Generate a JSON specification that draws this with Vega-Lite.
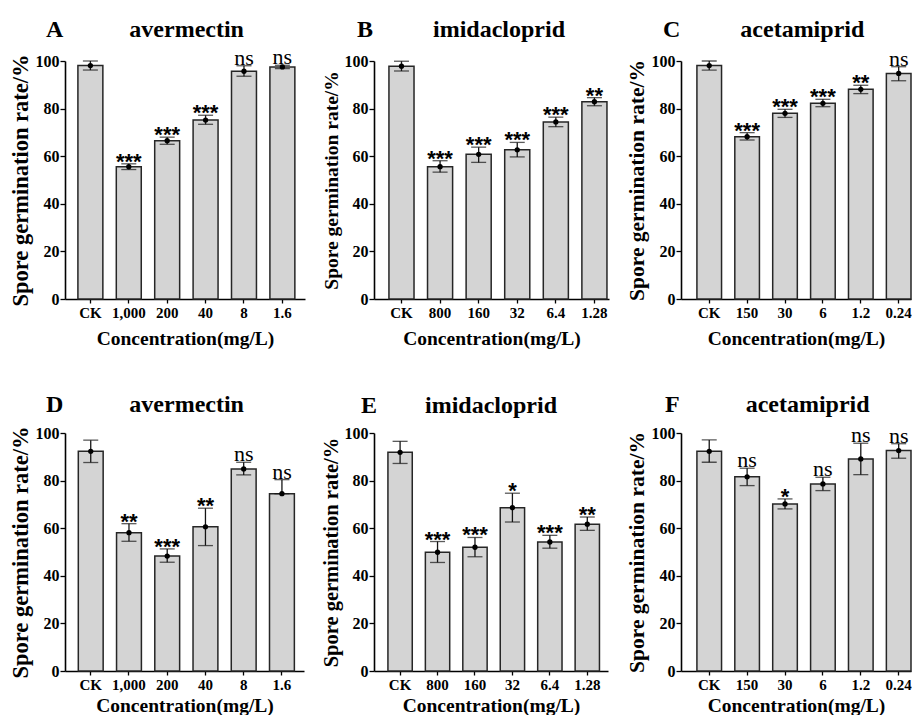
{
  "$schema": "https://vega.github.io/schema/vega-lite/v6.json",
  "padding": {"left": 8, "top": 18, "right": 0, "bottom": 0},
  "background": "#ffffff",
  "datasets": {
    "germ": [
      {"panel": "A", "dose": "CK", "mean": 98.1, "lo": 96.2, "hi": 100.0, "sig": ""},
      {"panel": "A", "dose": "1,000", "mean": 55.6, "lo": 54.4, "hi": 56.8, "sig": "***"},
      {"panel": "A", "dose": "200", "mean": 66.5, "lo": 65.0, "hi": 68.0, "sig": "***"},
      {"panel": "A", "dose": "40", "mean": 75.2, "lo": 73.4, "hi": 77.2, "sig": "***"},
      {"panel": "A", "dose": "8", "mean": 95.7, "lo": 93.6, "hi": 98.0, "sig": "ns"},
      {"panel": "A", "dose": "1.6", "mean": 97.5, "lo": 96.8, "hi": 98.2, "sig": "ns"},
      {"panel": "B", "dose": "CK", "mean": 97.8, "lo": 95.8, "hi": 99.9, "sig": ""},
      {"panel": "B", "dose": "800", "mean": 55.6, "lo": 53.3, "hi": 58.1, "sig": "***"},
      {"panel": "B", "dose": "160", "mean": 60.8, "lo": 57.4, "hi": 63.8, "sig": "***"},
      {"panel": "B", "dose": "32", "mean": 62.7, "lo": 59.7, "hi": 65.8, "sig": "***"},
      {"panel": "B", "dose": "6.4", "mean": 74.4, "lo": 72.4, "hi": 76.4, "sig": "***"},
      {"panel": "B", "dose": "1.28", "mean": 82.9, "lo": 81.2, "hi": 84.6, "sig": "**"},
      {"panel": "C", "dose": "CK", "mean": 98.1, "lo": 96.2, "hi": 100.0, "sig": ""},
      {"panel": "C", "dose": "150", "mean": 68.2, "lo": 66.8, "hi": 69.9, "sig": "***"},
      {"panel": "C", "dose": "30", "mean": 78.0, "lo": 76.3, "hi": 79.7, "sig": "***"},
      {"panel": "C", "dose": "6", "mean": 82.2, "lo": 80.8, "hi": 83.9, "sig": "***"},
      {"panel": "C", "dose": "1.2", "mean": 88.1, "lo": 86.3, "hi": 89.8, "sig": "**"},
      {"panel": "C", "dose": "0.24", "mean": 94.8, "lo": 91.7, "hi": 97.6, "sig": "ns"},
      {"panel": "D", "dose": "CK", "mean": 92.3, "lo": 87.6, "hi": 97.0, "sig": ""},
      {"panel": "D", "dose": "1,000", "mean": 58.1, "lo": 54.5, "hi": 61.9, "sig": "**"},
      {"panel": "D", "dose": "200", "mean": 48.3, "lo": 45.7, "hi": 51.3, "sig": "***"},
      {"panel": "D", "dose": "40", "mean": 60.6, "lo": 52.7, "hi": 68.4, "sig": "**"},
      {"panel": "D", "dose": "8", "mean": 84.9, "lo": 82.4, "hi": 87.7, "sig": "ns"},
      {"panel": "D", "dose": "1.6", "mean": 74.5, "lo": 74.5, "hi": 80.4, "sig": "ns"},
      {"panel": "E", "dose": "CK", "mean": 91.9, "lo": 87.2, "hi": 96.5, "sig": ""},
      {"panel": "E", "dose": "800", "mean": 49.9, "lo": 45.6, "hi": 54.4, "sig": "***"},
      {"panel": "E", "dose": "160", "mean": 52.0, "lo": 48.0, "hi": 56.1, "sig": "***"},
      {"panel": "E", "dose": "32", "mean": 68.6, "lo": 62.6, "hi": 74.7, "sig": "*"},
      {"panel": "E", "dose": "6.4", "mean": 54.2, "lo": 51.6, "hi": 57.0, "sig": "***"},
      {"panel": "E", "dose": "1.28", "mean": 61.7, "lo": 59.1, "hi": 64.7, "sig": "**"},
      {"panel": "F", "dose": "CK", "mean": 92.3, "lo": 87.7, "hi": 97.1, "sig": ""},
      {"panel": "F", "dose": "150", "mean": 81.6, "lo": 77.9, "hi": 85.2, "sig": "ns"},
      {"panel": "F", "dose": "30", "mean": 70.2, "lo": 68.1, "hi": 72.3, "sig": "*"},
      {"panel": "F", "dose": "6", "mean": 78.6, "lo": 75.8, "hi": 81.4, "sig": "ns"},
      {"panel": "F", "dose": "1.2", "mean": 89.1, "lo": 82.5, "hi": 95.7, "sig": "ns"},
      {"panel": "F", "dose": "0.24", "mean": 92.6, "lo": 89.4, "hi": 95.5, "sig": "ns"}
    ]
  },
  "concat": [
    {
      "width": 240, "height": 238,
      "data": {"name": "germ"},
      "transform": [{"filter": "datum.panel === 'A'"}],
      "title": {"text": "A\u00a0\u00a0\u00a0\u00a0\u00a0\u00a0\u00a0\u00a0\u00a0\u00a0\u00a0avermectin", "dx": -19, "offset": 0},
      "encoding": {"x": {"field": "dose", "type": "nominal", "sort": null, "scale": {"paddingInner": 0.35, "paddingOuter": 0.3, "align": 0.56}, "axis": {"title": "Concentration(mg/L)", "titlePadding": 9}}},
      "layer": [
        {"mark": "bar", "encoding": {"y": {"field": "mean", "type": "quantitative", "scale": {"domain": [0, 100], "nice": false}, "axis": {"title": "Spore germination rate/%", "titleFontSize": 22.5}}}},
        {"mark": "rule", "encoding": {"y": {"field": "lo", "type": "quantitative"}, "y2": {"field": "hi"}}},
        {"mark": {"type": "tick", "size": 15}, "encoding": {"y": {"field": "hi", "type": "quantitative"}}},
        {"mark": {"type": "tick", "size": 15}, "encoding": {"y": {"field": "lo", "type": "quantitative"}}},
        {"mark": "point", "encoding": {"y": {"field": "mean", "type": "quantitative"}}},
        {"mark": {"type": "text", "style": "star"}, "encoding": {"y": {"field": "hi", "type": "quantitative"}, "text": {"condition": {"test": "datum.sig === 'ns'", "value": ""}, "field": "sig"}}},
        {"mark": {"type": "text", "style": "nsl"}, "encoding": {"y": {"field": "hi", "type": "quantitative"}, "text": {"condition": {"test": "datum.sig === 'ns'", "field": "sig"}, "value": ""}}}
      ]
    },
    {
      "width": 235, "height": 238,
      "data": {"name": "germ"},
      "transform": [{"filter": "datum.panel === 'B'"}],
      "title": {"text": "B\u00a0\u00a0\u00a0\u00a0\u00a0\u00a0\u00a0\u00a0\u00a0\u00a0imidacloprid", "dx": -17, "offset": 0},
      "encoding": {"x": {"field": "dose", "type": "nominal", "sort": null, "scale": {"paddingInner": 0.35, "paddingOuter": 0.22, "align": 0.88}, "axis": {"title": "Concentration(mg/L)", "titlePadding": 9}}},
      "layer": [
        {"mark": "bar", "encoding": {"y": {"field": "mean", "type": "quantitative", "scale": {"domain": [0, 100], "nice": false}, "axis": {"title": "Spore germination rate/%", "titleFontSize": 19.5}}}},
        {"mark": "rule", "encoding": {"y": {"field": "lo", "type": "quantitative"}, "y2": {"field": "hi"}}},
        {"mark": {"type": "tick", "size": 15}, "encoding": {"y": {"field": "hi", "type": "quantitative"}}},
        {"mark": {"type": "tick", "size": 15}, "encoding": {"y": {"field": "lo", "type": "quantitative"}}},
        {"mark": "point", "encoding": {"y": {"field": "mean", "type": "quantitative"}}},
        {"mark": {"type": "text", "style": "star"}, "encoding": {"y": {"field": "hi", "type": "quantitative"}, "text": {"condition": {"test": "datum.sig === 'ns'", "value": ""}, "field": "sig"}}},
        {"mark": {"type": "text", "style": "nsl"}, "encoding": {"y": {"field": "hi", "type": "quantitative"}, "text": {"condition": {"test": "datum.sig === 'ns'", "field": "sig"}, "value": ""}}}
      ]
    },
    {
      "width": 230, "height": 238,
      "data": {"name": "germ"},
      "transform": [{"filter": "datum.panel === 'C'"}],
      "title": {"text": "C\u00a0\u00a0\u00a0\u00a0\u00a0\u00a0\u00a0\u00a0\u00a0\u00a0acetamiprid", "dx": -18, "offset": 0},
      "encoding": {"x": {"field": "dose", "type": "nominal", "sort": null, "scale": {"paddingInner": 0.35, "paddingOuter": 0.21, "align": 1}, "axis": {"title": "Concentration(mg/L)", "titlePadding": 9}}},
      "layer": [
        {"mark": "bar", "encoding": {"y": {"field": "mean", "type": "quantitative", "scale": {"domain": [0, 100], "nice": false}, "axis": {"title": "Spore germination rate/%", "titleFontSize": 21.5}}}},
        {"mark": "rule", "encoding": {"y": {"field": "lo", "type": "quantitative"}, "y2": {"field": "hi"}}},
        {"mark": {"type": "tick", "size": 15}, "encoding": {"y": {"field": "hi", "type": "quantitative"}}},
        {"mark": {"type": "tick", "size": 15}, "encoding": {"y": {"field": "lo", "type": "quantitative"}}},
        {"mark": "point", "encoding": {"y": {"field": "mean", "type": "quantitative"}}},
        {"mark": {"type": "text", "style": "star"}, "encoding": {"y": {"field": "hi", "type": "quantitative"}, "text": {"condition": {"test": "datum.sig === 'ns'", "value": ""}, "field": "sig"}}},
        {"mark": {"type": "text", "style": "nsl"}, "encoding": {"y": {"field": "hi", "type": "quantitative"}, "text": {"condition": {"test": "datum.sig === 'ns'", "field": "sig"}, "value": ""}}}
      ]
    },
    {
      "width": 239, "height": 238,
      "data": {"name": "germ"},
      "transform": [{"filter": "datum.panel === 'D'"}],
      "title": {"text": "D\u00a0\u00a0\u00a0\u00a0\u00a0\u00a0\u00a0\u00a0\u00a0\u00a0\u00a0avermectin", "dx": -19, "offset": 4},
      "encoding": {"x": {"field": "dose", "type": "nominal", "sort": null, "scale": {"paddingInner": 0.35, "paddingOuter": 0.3, "align": 0.58}, "axis": {"title": "Concentration(mg/L)", "titlePadding": 4}}},
      "layer": [
        {"mark": "bar", "encoding": {"y": {"field": "mean", "type": "quantitative", "scale": {"domain": [0, 100], "nice": false}, "axis": {"title": "Spore germination rate/%", "titleFontSize": 22.5}}}},
        {"mark": "rule", "encoding": {"y": {"field": "lo", "type": "quantitative"}, "y2": {"field": "hi"}}},
        {"mark": {"type": "tick", "size": 15}, "encoding": {"y": {"field": "hi", "type": "quantitative"}}},
        {"mark": {"type": "tick", "size": 15}, "encoding": {"y": {"field": "lo", "type": "quantitative"}}},
        {"mark": "point", "encoding": {"y": {"field": "mean", "type": "quantitative"}}},
        {"mark": {"type": "text", "style": "star"}, "encoding": {"y": {"field": "hi", "type": "quantitative"}, "text": {"condition": {"test": "datum.sig === 'ns'", "value": ""}, "field": "sig"}}},
        {"mark": {"type": "text", "style": "nsl"}, "encoding": {"y": {"field": "hi", "type": "quantitative"}, "text": {"condition": {"test": "datum.sig === 'ns'", "field": "sig"}, "value": ""}}}
      ]
    },
    {
      "width": 234, "height": 238,
      "data": {"name": "germ"},
      "transform": [{"filter": "datum.panel === 'E'"}],
      "title": {"text": "E\u00a0\u00a0\u00a0\u00a0\u00a0\u00a0\u00a0\u00a0imidacloprid", "dx": -13, "offset": 4},
      "encoding": {"x": {"field": "dose", "type": "nominal", "sort": null, "scale": {"paddingInner": 0.35, "paddingOuter": 0.3, "align": 0.62}, "axis": {"title": "Concentration(mg/L)", "titlePadding": 4}}},
      "layer": [
        {"mark": "bar", "encoding": {"y": {"field": "mean", "type": "quantitative", "scale": {"domain": [0, 100], "nice": false}, "axis": {"title": "Spore germination rate/%", "titleFontSize": 20.5}}}},
        {"mark": "rule", "encoding": {"y": {"field": "lo", "type": "quantitative"}, "y2": {"field": "hi"}}},
        {"mark": {"type": "tick", "size": 15}, "encoding": {"y": {"field": "hi", "type": "quantitative"}}},
        {"mark": {"type": "tick", "size": 15}, "encoding": {"y": {"field": "lo", "type": "quantitative"}}},
        {"mark": "point", "encoding": {"y": {"field": "mean", "type": "quantitative"}}},
        {"mark": {"type": "text", "style": "star"}, "encoding": {"y": {"field": "hi", "type": "quantitative"}, "text": {"condition": {"test": "datum.sig === 'ns'", "value": ""}, "field": "sig"}}},
        {"mark": {"type": "text", "style": "nsl"}, "encoding": {"y": {"field": "hi", "type": "quantitative"}, "text": {"condition": {"test": "datum.sig === 'ns'", "field": "sig"}, "value": ""}}}
      ]
    },
    {
      "width": 230, "height": 238,
      "data": {"name": "germ"},
      "transform": [{"filter": "datum.panel === 'F'"}],
      "title": {"text": "F\u00a0\u00a0\u00a0\u00a0\u00a0\u00a0\u00a0\u00a0\u00a0\u00a0\u00a0acetamiprid", "dx": -16, "offset": 4},
      "encoding": {"x": {"field": "dose", "type": "nominal", "sort": null, "scale": {"paddingInner": 0.35, "paddingOuter": 0.21, "align": 1}, "axis": {"title": "Concentration(mg/L)", "titlePadding": 4}}},
      "layer": [
        {"mark": "bar", "encoding": {"y": {"field": "mean", "type": "quantitative", "scale": {"domain": [0, 100], "nice": false}, "axis": {"title": "Spore germination rate/%", "titleFontSize": 21.5}}}},
        {"mark": "rule", "encoding": {"y": {"field": "lo", "type": "quantitative"}, "y2": {"field": "hi"}}},
        {"mark": {"type": "tick", "size": 15}, "encoding": {"y": {"field": "hi", "type": "quantitative"}}},
        {"mark": {"type": "tick", "size": 15}, "encoding": {"y": {"field": "lo", "type": "quantitative"}}},
        {"mark": "point", "encoding": {"y": {"field": "mean", "type": "quantitative"}}},
        {"mark": {"type": "text", "style": "star"}, "encoding": {"y": {"field": "hi", "type": "quantitative"}, "text": {"condition": {"test": "datum.sig === 'ns'", "value": ""}, "field": "sig"}}},
        {"mark": {"type": "text", "style": "nsl"}, "encoding": {"y": {"field": "hi", "type": "quantitative"}, "text": {"condition": {"test": "datum.sig === 'ns'", "field": "sig"}, "value": ""}}}
      ]
    }
  ],
  "columns": 3,
  "align": "each",
  "spacing": {"row": 44, "column": 16},
  "config": {
    "font": "Liberation Serif",
    "view": {"stroke": null},
    "title": {"font": "Liberation Serif", "fontWeight": "bold", "fontSize": 24, "anchor": "start", "frame": "group", "color": "#000000"},
    "axis": {"grid": false, "domainColor": "#000000", "domainWidth": 1.6, "tickColor": "#000000", "tickWidth": 1.3, "labelFont": "Liberation Serif", "labelFontWeight": "bold", "labelColor": "#000000", "titleFont": "Liberation Serif", "titleFontWeight": "bold", "titleColor": "#000000"},
    "axisX": {"labelAngle": 0, "labelFontSize": 15, "tickSize": 4, "labelPadding": 2, "titleFontSize": 19.5},
    "axisY": {"values": [0, 10, 20, 30, 40, 50, 60, 70, 80, 90, 100], "labelExpr": "datum.value % 20 === 0 ? datum.label : ''", "tickSize": {"condition": {"test": "datum.value % 20 === 0", "value": 5}, "value": 3}, "labelFontSize": 16, "labelPadding": 1, "titlePadding": 3},
    "bar": {"fill": "#d4d4d4", "stroke": "#262626", "strokeWidth": 1.5},
    "rule": {"color": "#151515", "strokeWidth": 1.3},
    "tick": {"color": "#151515", "thickness": 1.3},
    "point": {"filled": true, "color": "#000000", "size": 28, "opacity": 1},
    "style": {
      "star": {"font": "Liberation Sans", "fontWeight": "bold", "fontSize": 22, "baseline": "alphabetic", "dy": 5, "color": "#000000"},
      "nsl": {"font": "Liberation Serif", "fontSize": 22, "baseline": "alphabetic", "dy": -1, "color": "#000000"}
    }
  }
}
